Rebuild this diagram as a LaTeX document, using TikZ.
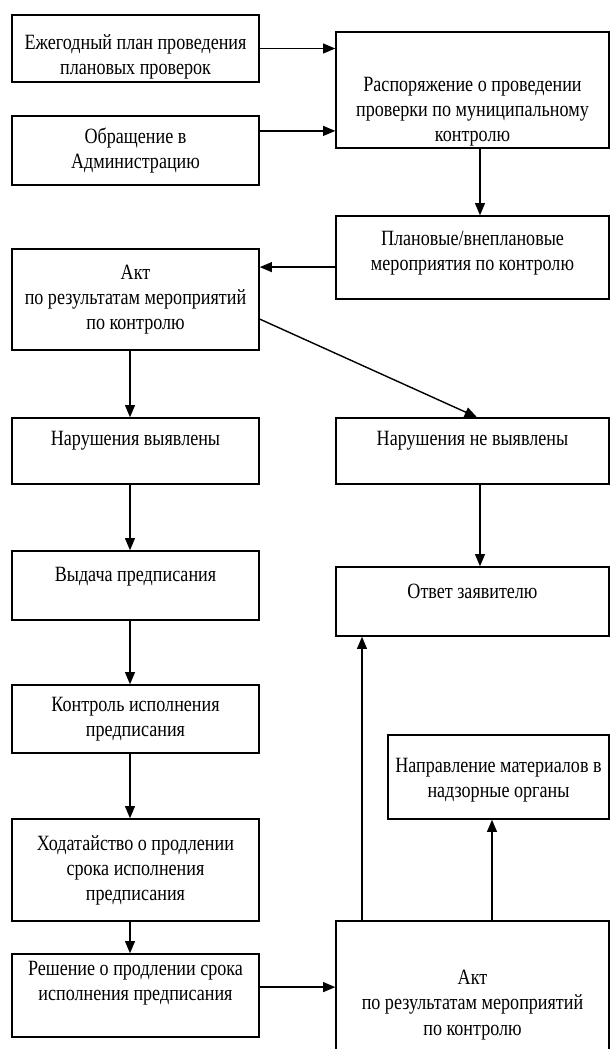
\documentclass[tikz,border=0pt]{standalone}
\usepackage{fontspec}
\setmainfont{Liberation Serif}[FakeStretch=0.83]
\usepackage{tikz}
\usetikzlibrary{arrows,positioning,calc}
\tikzstyle{arrow} = [line width=1pt,->,>=triangle 45]

\begin{document}
\begin{tikzpicture}[
    box/.style={rectangle, draw=black, line width=1.1pt, minimum width=6.175cm, inner sep=0pt},
    rbox/.style={box, minimum width=6.825cm},
    txt/.style={align=center, inner sep=0pt, font=\fontsize{15.5}{17.8}\selectfont}]

\useasboundingbox (0,0) rectangle (15.25,-26.225);
\clip (0,0) rectangle (15.25,-26.225);

% Arrow columns
\coordinate (lx) at (3.25,0);
\coordinate (rx) at (12.0,0);
\coordinate (ax1) at (9.05,0);
\coordinate (ax2) at (12.3,0);

% Top block
\node[box, minimum height=1.675cm] (plan) at (3.3875,-1.2125) {};
\node[box, minimum height=1.725cm] (obr) at (3.3875,-3.7625) {};
\node[rbox, minimum height=2.9cm] (rasp) at (11.8125,-2.25) {};
\node[rbox, minimum height=2.075cm] (plan2) at (11.8125,-6.4375) {};
\node[box, minimum height=2.525cm] (akt1) at (3.3875,-7.4875) {};

\node[txt] (planT) at ([yshift=-0.2cm]plan.center) {Ежегодный план проведения\\плановых проверок};
\node[txt] (obrT) at (obr.center) {Обращение в\\Администрацию};
\node[txt] (raspT) at ([yshift=-0.55cm]rasp.center) {Распоряжение о проведении\\проверки по муниципальному\\контролю};
\node[txt] (plan2T) at ([yshift=0.1cm]plan2.center) {Плановые/внеплановые\\мероприятия по контролю};
\node[txt] (akt1T) at (akt1.center) {Акт\\по результатам мероприятий\\по контролю};

% Results
\node[box, minimum height=1.65cm] (nar1) at (3.3875,-11.275) {};
\node[rbox, minimum height=1.65cm] (nar2) at (11.8125,-11.275) {};
\node[box, minimum height=1.725cm] (vyd) at (3.3875,-14.6375) {};
\node[rbox, minimum height=1.725cm] (otvet) at (11.8125,-15.0375) {};
\node[box, minimum height=1.7cm] (kontr) at (3.3875,-17.975) {};
\node[box, minimum width=5.525cm, minimum height=2.1cm] (napr) at (12.4625,-19.425) {};
\node[box, minimum height=2.55cm] (hod) at (3.3875,-21.75) {};
\node[box, minimum height=2.075cm] (resh) at (3.3875,-24.8875) {};
\node[rbox, minimum height=3.725cm] (akt2) at (11.8125,-24.8875) {};

\node[txt] (nar1T) at ([yshift=0.25cm]nar1.center) {Нарушения выявлены};
\node[txt] (nar2T) at ([yshift=0.25cm]nar2.center) {Нарушения не выявлены};
\node[txt] (vydT) at ([yshift=0.21cm]vyd.center) {Выдача предписания};
\node[txt] (otvetT) at ([yshift=0.25cm]otvet.center) {Ответ заявителю};
\node[txt] (kontrT) at (kontr.center) {Контроль исполнения\\предписания};
\node[txt] (naprT) at ([yshift=-0.075cm]napr.center) {Направление материалов в\\надзорные органы};
\node[txt] (hodT) at (hod.center) {Ходатайство о продлении\\срока исполнения\\предписания};
\node[txt] (reshT) at ([yshift=0.3cm]resh.center) {Решение о продлении срока\\исполнения предписания};
\node[txt] (akt2T) at ([yshift=-0.24cm]akt2.center) {Акт\\по результатам мероприятий\\по контролю};

% Connectors
\coordinate (obrout) at ([yshift=0.49cm]obr.east);
\coordinate (p2out) at ([yshift=-0.24cm]plan2.west);
\coordinate (reshout) at ([yshift=0.21cm]resh.east);
\draw[arrow] (plan.east) -- (plan.east -| rasp.west);
\draw[arrow] (obrout) -- (obrout -| rasp.west);
\draw[arrow] (rasp.south -| rx) -- (plan2.north -| rx);
\draw[arrow] (p2out) -- (p2out -| akt1.east);
\draw[arrow] (akt1.south -| lx) -- (nar1.north -| lx);
\draw[arrow] ([yshift=-0.49cm]akt1.east) -- ([xshift=0.11cm]nar2.north);
\draw[arrow] (nar1.south -| lx) -- (vyd.north -| lx);
\draw[arrow] (nar2.south -| rx) -- (otvet.north -| rx);
\draw[arrow] (vyd.south -| lx) -- (kontr.north -| lx);
\draw[arrow] (kontr.south -| lx) -- (hod.north -| lx);
\draw[arrow] (hod.south -| lx) -- (resh.north -| lx);
\draw[arrow] (reshout) -- (reshout -| akt2.west);
\draw[arrow] (akt2.north -| ax1) -- (otvet.south -| ax1);
\draw[arrow] (akt2.north -| ax2) -- (napr.south -| ax2);

\end{tikzpicture}
\end{document}
